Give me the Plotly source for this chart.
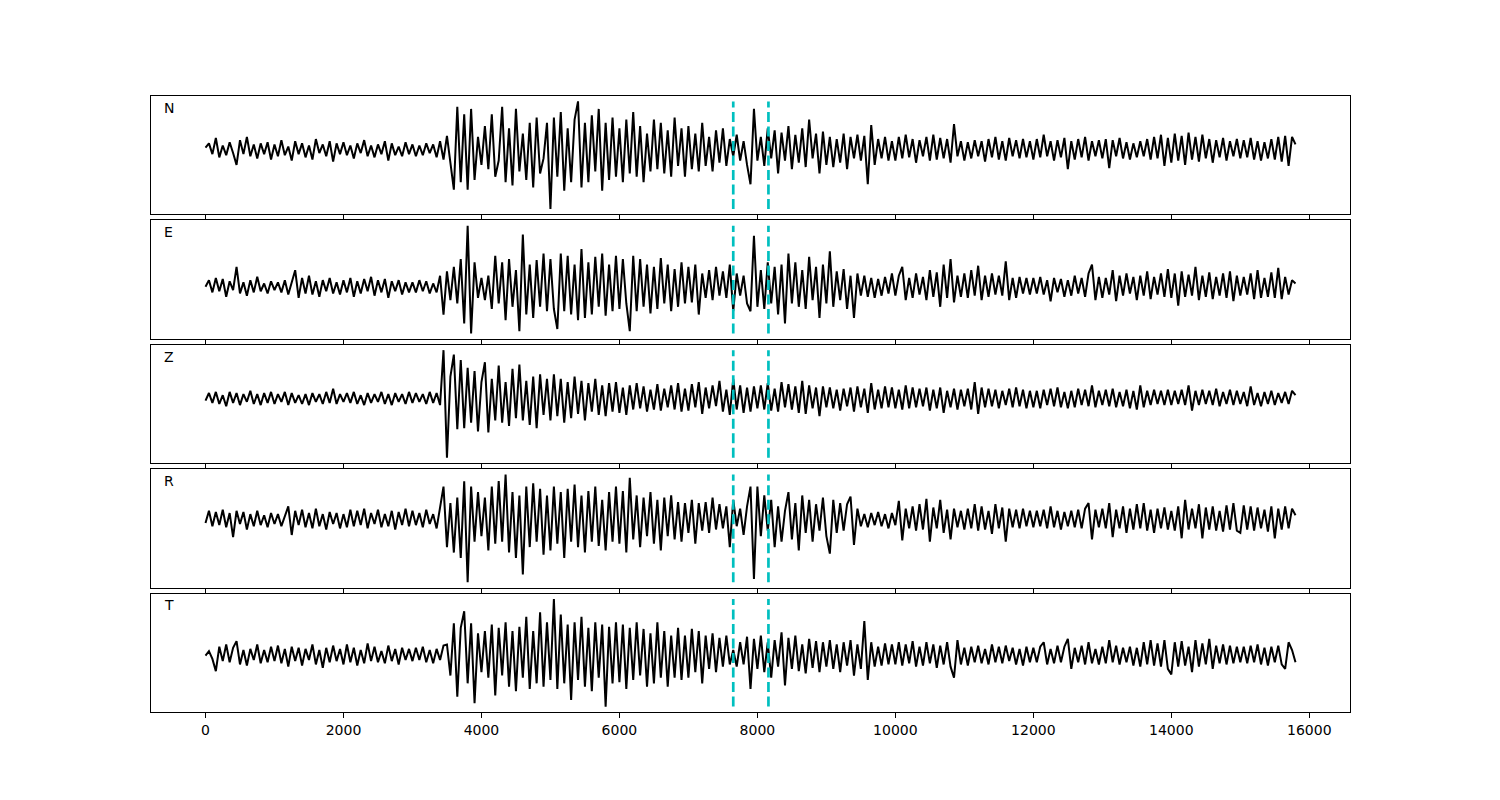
import plotly.graph_objects as go
from plotly.subplots import make_subplots

# sample interval of the traces (x units)
DT = 50

components = ["N", "E", "Z", "R", "T"]

n_vals = [
    2, 6, -4, 11, -7, 4, -5, 7, -3, -14, 9, -4, 12, -6, 5, -8, 6, -4, 7, -9,
    5, -6, 9, -5, 3, -10, 8, -4, 6, -7, 4, -9, 10, -3, 5, -6, 8, -11, 6, -4,
    7, -5, 4, -8, 6, -3, 9, -6, 4, -7, 5, -4, 8, -10, 6, -5, 3, -6, 7, -4,
    5, -6, 4, -5, 6, -3, 5, -7, 8, -9, 13, -10, -37, 40, -30, 33, -37, 38, -28, 12,
    -14, 22, -18, 33, -25, -10, 40, -30, 20, -33, 38, -20, 15, -28, 25, -35, 30, -22, -8, 25,
    -55, 30, -25, 35, -38, 20, -30, 28, 45, -35, 25, -30, 32, -20, 38, -38, 25, -28, 30, -25,
    20, -30, 28, -22, 35, -25, 22, -30, 15, -20, 28, -18, 25, -22, 18, -25, 30, -15, 20, -25,
    22, -18, 15, -20, 25, -15, 12, -20, 18, -12, 20, -15, 10, -6, 14, -10, 8, -14, -32, 38,
    -10, 12, -15, 20, -8, 18, -22, 16, -10, 22, -18, 14, -12, 20, -16, 28, -8, 15, -22, 17,
    -14, 12, -16, 10, -12, 15, -18, 12, -8, 14, -10, 13, -32, 23, -14, 10, -8, 12, -10, 8,
    -10, 12, -8, 14, -7, 10, -12, 9, -6, 12, -10, 14, -9, 11, -8, 10, -12, 24, -6, 8,
    -10, 7, -8, 9, -6, 8, -11, 10, -7, 12, -9, 8, -10, 11, -6, 9, -8, 10, -7, 8,
    -9, 10, -7, 14, -6, 8, -10, 9, -7, 11, -18, 8, -9, 10, -7, 12, -10, 8, -6, 9,
    -8, 10, -17, 9, -6, 11, -8, 7, -9, 6, -7, 8, -6, 10, -9, 12, -8, 14, -15, 11,
    -12, 15, -10, 13, -14, 16, -9, 12, -11, 14, -8, 10, -12, 9, -7, 11, -10, 8, -6, 10,
    -8, 9, -7, 11, -9, 8, -10, 7, -8, 10, -9, 12, -11, 13, -15, 12, 5,
]

e_vals = [
    0, 6, -5, 8, -4, 7, -9, 5, -3, 18, -6, 4, -8, 6, -5, 9, -4, 3, -6, 5,
    -3, 4, -5, 6, -7, 3, 15, -10, 8, -6, 10, -7, 5, -9, 6, -4, 8, -6, 4, -7,
    6, -5, 8, -9, 5, -6, 7, -4, 9, -8, 6, -5, 7, -10, 5, -4, 6, -7, 4, -5,
    4, -5, 6, -4, 5, -6, 3, -5, 10, -25, 14, -12, 18, -15, 25, -33, 55, -42, 22, -10,
    8, -12, 10, -20, 28, -15, 22, -30, 25, -18, 15, -40, 47, -25, 20, -28, 24, -18, 30, -22,
    25, -20, -38, 30, -22, 28, -25, 20, -30, 34, -28, 22, -25, 27, -18, 30, -26, 20, -22, 28,
    -20, 25, -15, -40, 28, -22, 25, -18, 20, -24, 18, -20, 26, -15, 20, -22, 16, -18, 22, -15,
    18, -14, 20, -25, 12, -10, 15, -12, 18, -8, 14, -10, 20, -22, 12, -8, 10, -15, -22, 46,
    -18, 15, -20, 22, -15, 18, -25, 20, -33, 30, -15, 22, -18, 15, -20, 27, -12, 18, -28, 20,
    -15, 32, -18, 14, -12, 16, -20, 10, -28, 12, -8, 10, -9, 8, -10, 7, -8, 9, -6, 12,
    -8, 10, 18, -12, 8, -10, 12, -7, 9, -12, 15, -9, 13, -18, 20, -10, 25, -14, 10, -9,
    12, -10, 15, -8, 19, -12, 10, -9, 12, -7, 10, -8, 23, -12, 8, -10, 9, -6, 8, -7,
    8, -6, 9, -7, 6, -13, 8, -5, 7, -9, 6, -8, 10, -6, 8, -9, 12, 20, -12, 9,
    -10, 8, -7, 15, -13, 10, -8, 12, -6, 9, -12, 10, -8, 14, -11, 9, -7, 12, -9, 16,
    -10, 12, -17, 14, -9, 11, -8, 18, -12, 10, -9, 13, -11, 9, -8, 12, -10, 14, -13, 10,
    -8, 9, -7, 12, -11, 15, -10, 8, -9, 13, -10, 17, -11, 9, -7, 6, 3,
]

z_vals = [
    -2, 5, -4, 6, -5, 3, -7, 6, -4, 5, -6, 4, -3, 7, -5, 4, -6, 5, -4, 6,
    -5, 4, -3, 6, -6, 5, -4, 3, -5, 4, -6, 5, -3, 4, -5, 6, -4, 9, -5, 4,
    -3, 5, -4, 6, -5, 3, -6, 5, -4, 4, -3, 6, -5, 4, -6, 5, -3, 4, -5, 6,
    -4, 5, -3, 4, -5, 6, -4, 5, -6, 44, -54, 20, 40, -28, 35, -27, 28, -22, 25, -30,
    15, 33, -31, 18, -20, 30, -22, 15, -25, 27, -18, 31, -20, 16, -24, 20, -27, 22, -15, 18,
    -20, 22, -16, 18, -22, 15, -18, 20, -14, 16, -20, 14, -12, 18, -15, 12, -16, 14, -12, 15,
    -13, 10, -15, 12, -10, 14, -9, 11, -12, 8, -10, 13, -11, 9, -8, 12, -10, 14, -12, 9,
    -11, 13, -8, 15, -14, 10, -9, 12, -7, 16, -12, 8, -15, 18, -10, 12, -13, 10, -12, 11,
    -9, 12, -10, 14, -11, 9, -12, 15, -8, 13, -10, 11, -13, 16, -14, 12, -9, 10, -16, 11,
    -8, 10, -9, 8, -11, 9, -7, 10, -12, 11, -8, 9, -13, 14, -10, 8, -9, 11, -8, 10,
    -9, 8, -10, 12, -9, 10, -8, 9, -7, 10, -11, 8, -9, 10, -13, 7, -8, 9, -10, 8,
    -7, 9, -10, 15, -14, 10, -8, 9, -7, 8, -9, 7, -6, 9, -8, 10, -7, 8, -9, 7,
    -8, 7, -9, 8, -6, 9, -7, 10, -8, 6, -9, 7, -8, 9, -6, 8, -7, 12, -8, 7,
    -6, 8, -7, 9, -8, 6, -7, 8, -9, 7, -10, 12, -8, 7, -6, 8, -5, 7, -6, 8,
    -6, 7, -5, 8, -6, 12, -11, 7, -6, 8, -5, 7, -6, 9, -7, 6, -5, 8, -6, 7,
    -5, 6, -7, 11, -6, 5, -7, 6, -5, 7, -6, 5, -4, 6, -5, 7, 3,
]

r_vals = [
    -3, 8, -6, 7, -5, 9, -7, 6, -16, 8, -4, 7, -9, 5, -6, 8, -5, 4, -7, 6,
    -4, 5, -6, 3, 12, -14, 8, -5, 9, -7, 6, -8, 10, -6, 5, -9, 7, -4, 6, -8,
    5, -7, 9, -6, 8, -5, 10, -8, 6, -4, 9, -7, 5, -6, 8, -9, 7, -5, 10, -6,
    8, -5, 6, -7, 9, -4, 5, -8, 10, 30, -25, 15, -30, 20, -35, 35, -57, 30, -20, 25,
    -15, 20, -28, 30, -22, 35, -20, 41, -30, 25, -35, 22, -50, 30, -25, 33, -20, 28, -32, 22,
    -28, 30, -22, 25, -35, 28, -20, 32, -25, 22, -30, 26, -20, 30, -24, 18, -28, 25, -20, 30,
    -22, 26, -30, 38, -18, 22, -25, 20, -15, 25, -22, 18, -28, 20, -15, 22, -18, 16, -20, 15,
    -12, 18, -22, 15, -10, 16, -12, 20, -9, 14, -8, 12, -25, 18, -6, 10, -14, 12, 30, -54,
    30, -15, 22, -10, 18, -25, 12, -20, 8, 25, -18, 15, -28, 22, -12, 18, -20, 14, -10, 20,
    -15, -31, 18, -12, 15, -10, 14, 21, -23, 10, -6, 5, -7, 6, -5, 7, -6, 5, -8, 6,
    -5, 17, -19, 10, -8, 12, -10, 14, -9, 19, -20, 11, -8, 18, -12, 9, -18, 10, -7, 8,
    -9, 10, -8, 14, -10, 12, -9, 8, -13, 14, -8, 11, -20, 10, -7, 9, -8, 10, -6, 8,
    -7, 8, -6, 9, -8, 12, -7, 8, -9, 7, -6, 8, -7, 9, -8, 10, 15, -18, 9, -7,
    10, -8, 15, -16, 9, -8, 12, -12, 10, -9, 14, -8, 15, -10, 9, -12, 10, -8, 11, -9,
    8, -10, 12, -17, 18, -9, 10, -8, 14, -17, 11, -9, 12, -10, 8, -11, 13, -9, 15, -10,
    -12, 13, -9, 12, -10, 11, -8, 9, -11, 12, -17, 10, -9, 12, -8, 10, 4,
]

t_vals = [
    0, 4, -3, -14, 8, -5, 10, -6, 7, 13, -8, 5, -9, 6, -4, 10, -7, 5, -6, 8,
    -5, 9, -7, 6, -10, 8, -5, 7, -9, 6, -4, 10, -8, 5, -11, 7, -6, 9, -5, 6,
    -8, 10, -6, 7, -9, 5, -7, 11, -5, 8, -6, 4, -7, 9, -5, 6, -8, 7, -4, 6,
    -5, 7, -4, 8, -6, 5, -7, 6, -4, 9, 10, -18, 29, -37, 25, 40, -25, 29, -43, 20,
    -15, 22, -20, 28, -36, 25, -18, 30, -28, 22, -32, 26, -20, 35, -30, 22, -25, 39, -28, 30,
    -22, 51, -30, 37, -25, 28, -40, 30, -22, 35, -28, 25, -32, 30, -20, 28, -46, 26, -25, 30,
    -24, 28, -30, 25, -22, 30, -18, 24, -28, 20, -25, 30, -20, 22, -28, 18, -20, 25, -22, 18,
    -20, 24, -15, 22, -25, 18, -12, 20, -15, 16, -10, 18, -8, 5, -10, 12, -8, 17, -30, 15,
    -12, 18, -15, 12, -20, 14, -10, 21, -27, 16, -12, 18, -14, 10, -16, 15, -11, 13, -15, 12,
    -10, 14, -12, 10, -15, 12, -9, 14, -18, 10, -12, 31, -22, 12, -10, 8, -9, 11, -8, 10,
    -8, 12, -9, 10, -7, 13, -10, 8, -9, 12, -7, 10, -11, 9, -8, 12, -10, -20, 14, -8,
    7, -9, 8, -6, 9, -7, 6, -8, 10, -6, 8, -7, 9, -5, 7, -8, 6, -9, 8, -6,
    7, -6, 8, 12, -8, 6, -7, 9, -6, 8, 15, -12, 7, -6, 9, -8, 12, -7, 6, -8,
    8, -7, 14, -6, 9, -8, 7, -6, 8, -9, 7, -10, 12, -8, 14, -9, 11, -10, 14, -12,
    -17, 12, -10, 13, -9, 8, -15, 14, -10, 11, -8, 15, -12, 9, -7, 10, -8, 9, -7, 8,
    -6, 8, -7, 9, -6, 10, -8, 7, -9, 8, -6, 9, -8, -12, 12, 5, -6,
]

pick_times = [7650, 8160]
tick_vals = [0, 2000, 4000, 6000, 8000, 10000, 12000, 14000, 16000]
tick_text = ["0", "2000", "4000", "6000", "8000", "10000", "12000", "14000", "16000"]
x_range = [-790, 16590]

traces = [n_vals, e_vals, z_vals, r_vals, t_vals]

fig = make_subplots(rows=5, cols=1, shared_xaxes=True, vertical_spacing=6 / 616)

for i, (name, vals) in enumerate(zip(components, traces)):
    row = i + 1
    t = [k * DT for k in range(len(vals))]
    fig.add_trace(go.Scatter(x=t, y=vals, mode="lines",
                             line=dict(color="black", width=2),
                             hoverinfo="skip", showlegend=False), row=row, col=1)
    lo, hi = min(vals), max(vals)
    for p in pick_times:
        fig.add_trace(go.Scatter(x=[p, p], y=[lo, hi], mode="lines",
                                 line=dict(color="#00BFBF", width=2.7, dash="10px,4.5px"),
                                 hoverinfo="skip", showlegend=False), row=row, col=1)
    span = hi - lo
    fig.update_yaxes(range=[lo - 0.05 * span, hi + 0.05 * span], row=row, col=1)
    suffix = "" if row == 1 else str(row)
    fig.add_annotation(text=name, xref=f"x{suffix} domain", yref=f"y{suffix} domain",
                       x=0.009, y=0.9, xanchor="left", yanchor="middle", showarrow=False,
                       font=dict(family="DejaVu Sans", size=14, color="black"))

fig.update_xaxes(range=x_range, tickvals=tick_vals, ticktext=tick_text, ticks="outside",
                 ticklen=5, tickwidth=1, tickcolor="black", showline=True, mirror=True,
                 linecolor="black", linewidth=1, showgrid=False, zeroline=False,
                 tickfont=dict(family="DejaVu Sans", size=14, color="black"))
fig.update_yaxes(showticklabels=False, ticks="", showline=True, mirror=True,
                 linecolor="black", linewidth=1, showgrid=False, zeroline=False)

# the page body adds an 8px offset, so margins are shifted to keep the panels in place
fig.update_layout(width=1500, height=800, paper_bgcolor="white", plot_bgcolor="white",
                  margin=dict(l=143, r=158, t=88, b=96), showlegend=False,
                  font=dict(family="DejaVu Sans", size=14, color="black"))

fig.write_html("out.html")
